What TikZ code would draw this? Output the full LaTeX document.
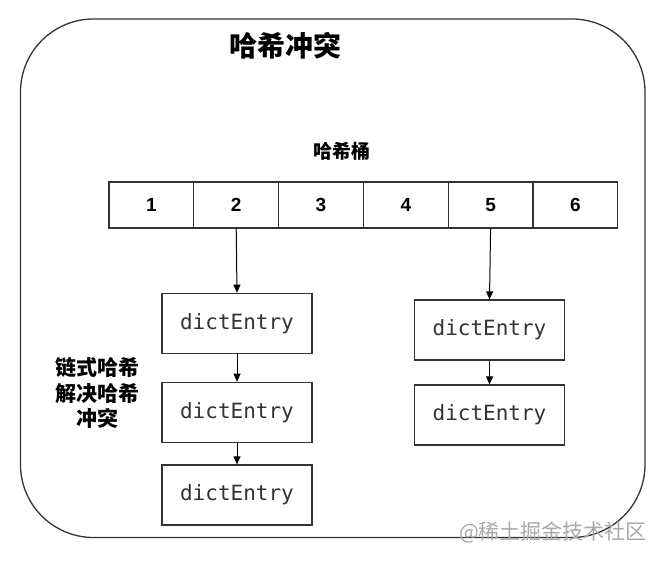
\documentclass[tikz,border=0pt]{standalone}
\usepackage{fontspec}
\setmainfont{Liberation Sans}
\newfontfamily\cjk{Noto Sans CJK SC}
\newfontfamily\monof{DejaVu Sans Mono}
\usetikzlibrary{arrows.meta,positioning}
\definecolor{linec}{HTML}{333333}
\definecolor{textc}{HTML}{333333}
\definecolor{wmc}{HTML}{A8A8A8}
\tikzset{
  cellbox/.style={draw=linec,line width=1.2pt,minimum width=84.8pt,minimum height=46pt,inner sep=0pt,outer sep=0pt,font=\fontsize{19}{19}\selectfont\bfseries},
  entrybox/.style={draw=linec,line width=1.2pt,minimum width=150pt,minimum height=60pt,inner sep=0pt,font=\monof\fontsize{21}{21}\selectfont,text=textc},
  arr/.style={draw=black,line width=1pt,-{Triangle[length=8pt,width=7pt]}},
  cjkbold/.style={font=\cjk\bfseries\fontsize{#1}{#1}\selectfont}
}
\begin{document}
\begin{tikzpicture}[x=1pt,y=-1pt]
\useasboundingbox (0,0) rectangle (670,561);
\fill[white] (0,0) rectangle (670,561);
% outer frame
\draw[linec,line width=1.3pt,rounded corners=73pt] (20.5,19) rectangle (645,537.5);
% title
\node[cjkbold=28] (title) at (285,46) {哈希冲突};
\node[cjkbold=19] (buckettitle) at (342,151) {哈希桶};
% bucket cells
\foreach \i in {1,...,6}{
  \node[cellbox] (c\i) at ({109+84.8*(\i-0.5)},205) {\i};
}
% left chain
\node[entrybox] (l1) at (237,323.3) {dictEntry};
\node[entrybox] (l2) at (237,412.3) {dictEntry};
\node[entrybox] (l3) at (237,495) {dictEntry};
% right chain
\node[entrybox] (r1) at (489.5,330) {dictEntry};
\node[entrybox] (r2) at (489.5,415) {dictEntry};
% arrows
\draw[arr] (c2.south) -- (l1.north);
\draw[arr] (l1.south) -- (l2.north);
\draw[arr] (l2.south) -- (l3.north);
\draw[arr] (c5.south) -- (r1.north);
\draw[arr] (r1.south) -- (r2.north);
% side label
\node[font=\cjk\bfseries\fontsize{21}{25.5}\selectfont,align=center,inner sep=0pt] (side) at (97.5,393) {链式哈希\\解决哈希\\冲突};
% watermark
\node[font=\cjk\fontsize{21}{21}\selectfont,text=wmc,inner sep=0pt] (wm) at (553,532) {@稀土掘金技术社区};
\end{tikzpicture}
\end{document}
